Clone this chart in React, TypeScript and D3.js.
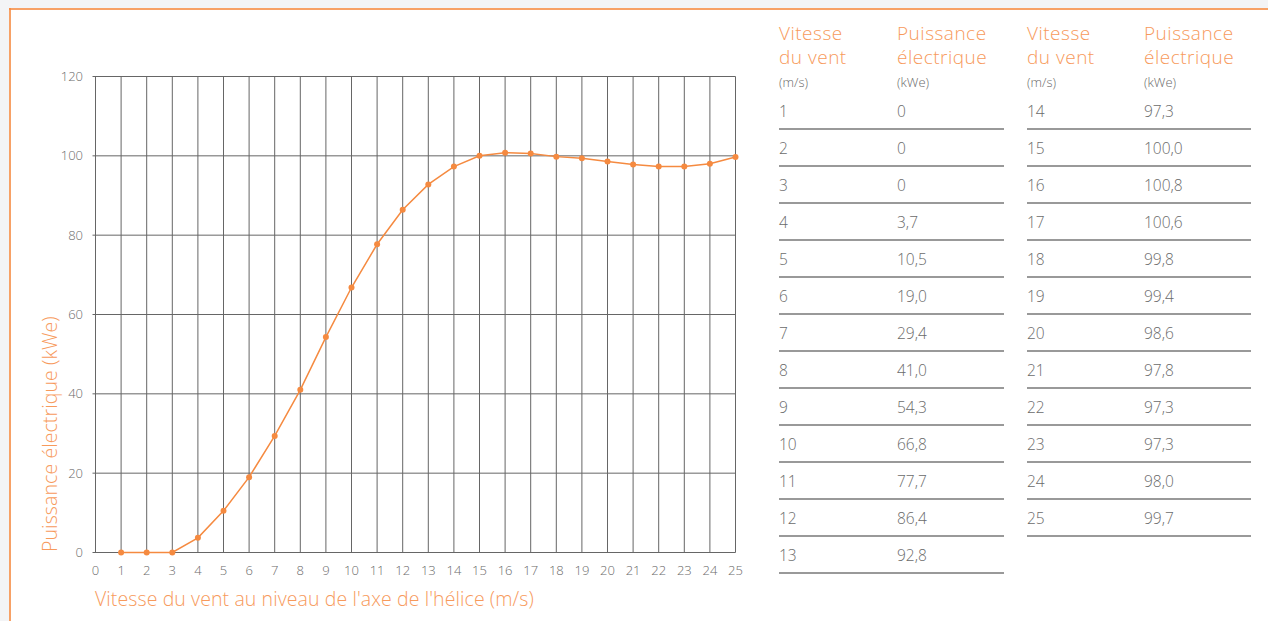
import { useRef, useEffect } from 'react';
import * as d3 from 'd3';

// Power curve: wind speed (m/s) -> electrical power (kWe)
const speeds = [1, 2, 3, 4, 5, 6, 7, 8, 9, 10, 11, 12, 13, 14, 15, 16, 17, 18, 19, 20, 21, 22, 23, 24, 25];
const powers = [0, 0, 0, 3.7, 10.5, 19.0, 29.4, 41.0, 54.3, 66.8, 77.7, 86.4, 92.8, 97.3, 100.0, 100.8, 100.6, 99.8, 99.4, 98.6, 97.8, 97.3, 97.3, 98.0, 99.7];
const xTicks = d3.range(0, 26);
const yTicks = [0, 20, 40, 60, 80, 100, 120];
const headerSpeed = ['Vitesse', 'du vent'];
const headerPower = ['Puissance', 'électrique'];
const unitSpeed = '(m/s)';
const unitPower = '(kWe)';
const xTitle = "Vitesse du vent au niveau de l'axe de l'hélice (m/s)";
const yTitle = 'Puissance électrique (kWe)';

const W = 1268;
const H = 621;
const ORANGE = '#f58a40';
const ORANGE_TEXT = '#f79a5c';
const GRID = '#666';
const TEXT = '#6b6b6b';
const FONT = '"Open Sans", Roboto, sans-serif';

const fmt = (v: number) => (v === 0 ? '0' : v.toFixed(1).replace('.', ','));

export default function App() {
  const svgRef = useRef<SVGSVGElement | null>(null);

  useEffect(() => {
    document.body.style.margin = '0';
    document.body.style.background = '#f3f4f6';
    if (!svgRef.current) return;
    const svg = d3.select(svgRef.current);
    svg.selectAll('*').remove();

    // panel
    svg.append('rect').attr('width', W).attr('height', H).attr('fill', '#f3f4f6');
    svg.append('rect').attr('x', 9).attr('y', 8).attr('width', W).attr('height', H).attr('fill', '#fff');
    svg.append('line').attr('x1', 9).attr('x2', W).attr('y1', 9).attr('y2', 9)
      .attr('stroke', ORANGE).attr('stroke-opacity', 0.8).attr('stroke-width', 2);
    svg.append('line').attr('x1', 10).attr('x2', 10).attr('y1', 8).attr('y2', H)
      .attr('stroke', ORANGE).attr('stroke-opacity', 0.8).attr('stroke-width', 2);

    const x = d3.scaleLinear().domain([0, 25]).range([95.5, 735.5]);
    const y = d3.scaleLinear().domain([0, 120]).range([552.5, 76.5]);

    const g = svg.append('g').attr('font-family', FONT).attr('font-weight', 300);

    // grid
    g.append('g').selectAll('line').data(xTicks).join('line')
      .attr('x1', (d) => x(d)).attr('x2', (d) => x(d))
      .attr('y1', y(120)).attr('y2', y(0))
      .attr('stroke', GRID).attr('stroke-width', 1);
    g.append('g').selectAll('line').data(yTicks).join('line')
      .attr('x1', x(0) - 3).attr('x2', x(25))
      .attr('y1', (d) => y(d)).attr('y2', (d) => y(d))
      .attr('stroke', GRID).attr('stroke-width', 1);

    // tick labels
    g.append('g').selectAll('text').data(yTicks).join('text')
      .attr('x', 83).attr('y', (d) => y(d)).attr('dy', '0.35em')
      .attr('text-anchor', 'end').attr('font-size', 13).attr('fill', TEXT)
      .text((d) => d);
    g.append('g').selectAll('text').data(xTicks).join('text')
      .attr('x', (d) => x(d)).attr('y', 575)
      .attr('text-anchor', 'middle').attr('font-size', 13).attr('fill', TEXT)
      .text((d) => d);

    // axis titles
    g.append('text').attr('x', 95).attr('y', 606)
      .attr('font-size', 19.5).attr('letter-spacing', 0.1)
      .attr('fill', ORANGE_TEXT).text(xTitle);
    g.append('text').attr('transform', 'translate(57,552) rotate(-90)')
      .attr('font-size', 19.5).attr('letter-spacing', 0.1)
      .attr('fill', ORANGE_TEXT).text(yTitle);

    // curve
    const pts = speeds.map((s, i) => ({ s, p: powers[i] }));
    const line = d3.line<{ s: number; p: number }>().x((d) => x(d.s)).y((d) => y(d.p));
    g.append('path').datum(pts).attr('d', line).attr('fill', 'none')
      .attr('stroke', ORANGE).attr('stroke-width', 1.5);
    g.append('g').selectAll('circle').data(pts).join('circle')
      .attr('cx', (d) => x(d.s)).attr('cy', (d) => y(d.p)).attr('r', 3)
      .attr('fill', ORANGE);

    // table
    const half = Math.ceil(speeds.length / 2);
    const cols = [
      { x0: 779, x1: 897, right: 1004, rows: pts.slice(0, half) },
      { x0: 1027, x1: 1144, right: 1251, rows: pts.slice(half) },
    ];
    const row = d3.scaleLinear().domain([0, 1]).range([129, 166]);
    cols.forEach((c) => {
      const t = g.append('g');
      headerSpeed.forEach((h, i) => t.append('text').attr('x', c.x0).attr('y', 40 + i * 24)
        .attr('font-size', 19).attr('letter-spacing', 0.5).attr('fill', ORANGE_TEXT).text(h));
      headerPower.forEach((h, i) => t.append('text').attr('x', c.x1).attr('y', 40 + i * 24)
        .attr('font-size', 19).attr('letter-spacing', 0.5).attr('fill', ORANGE_TEXT).text(h));
      t.append('text').attr('x', c.x0).attr('y', 87).attr('font-size', 13).attr('fill', TEXT).text(unitSpeed);
      t.append('text').attr('x', c.x1).attr('y', 87).attr('font-size', 13).attr('fill', TEXT).text(unitPower);
      c.rows.forEach((r, i) => {
        t.append('text').attr('x', c.x0).attr('y', row(i) - 12).attr('font-size', 15.5)
          .attr('fill', TEXT).text(r.s);
        t.append('text').attr('x', c.x1).attr('y', row(i) - 12).attr('font-size', 15.5)
          .attr('fill', TEXT).text(fmt(r.p));
        t.append('line').attr('x1', c.x0).attr('x2', c.right)
          .attr('y1', row(i)).attr('y2', row(i))
          .attr('stroke', '#777').attr('stroke-width', 1.3);
      });
    });
  }, []);

  return <svg ref={svgRef} width={W} height={H} style={{ display: 'block' }} />;
}
